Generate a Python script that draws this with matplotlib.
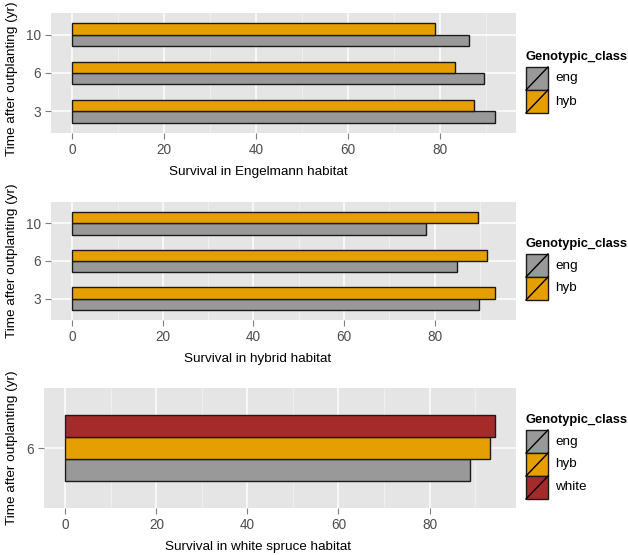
import numpy as np
import matplotlib.pyplot as plt
from matplotlib.patches import Rectangle

years = ["3", "6", "10"]
eng_engelmann = [91.9, 89.5, 86.2]
hyb_engelmann = [87.3, 83.3, 78.8]
eng_hybrid = [89.8, 84.9, 78.1]
hyb_hybrid = [93.3, 91.6, 89.6]

white_years = ["6"]
eng_white = [89.0]
hyb_white = [93.3]
white_white = [94.3]

colors = {"eng": "#999999", "hyb": "#E69F00", "white": "#A52A2A"}
xlabels = ["Survival in Engelmann habitat", "Survival in hybrid habitat",
           "Survival in white spruce habitat"]
ylabel = "Time after outplanting (yr)"

W, H = 628, 555
plt.rcParams['font.family'] = ['Liberation Sans', 'DejaVu Sans']
fig = plt.figure(figsize=(W / 100, H / 100), dpi=100)


def px_axes(left, top, right, bottom):
    return fig.add_axes([left / W, 1 - bottom / H, (right - left) / W, (bottom - top) / H])


def style(ax, ylim):
    ax.set_facecolor("#E5E5E5")
    for s in ax.spines.values():
        s.set_visible(False)
    ax.set_xticks([0, 20, 40, 60, 80])
    ax.set_xticks([10, 30, 50, 70, 90], minor=True)
    ax.grid(True, which="major", color="white", linewidth=1.1)
    ax.grid(True, which="minor", axis="x", color="#F2F2F2", linewidth=0.6)
    ax.set_axisbelow(True)
    ax.tick_params(which="major", length=4, width=0.8, color="#7F7F7F",
                   labelsize=9.8, labelcolor="#4D4D4D", pad=3)
    ax.tick_params(which="minor", length=0)
    ax.set_ylim(*ylim)


def bars(ax, cats, series, total_w):
    y = np.arange(1, len(cats) + 1)
    w = total_w / len(series)
    for i, (name, vals) in enumerate(series):
        off = -total_w / 2 + w * (i + 0.5)
        ax.barh(y + off, vals, height=w, color=colors[name],
                edgecolor="#1a1a1a", linewidth=1.0, zorder=3)
    ax.set_yticks(y)
    ax.set_yticklabels(cats)


panels = [
    (51, 13, 516, 133, years, [("eng", eng_engelmann), ("hyb", hyb_engelmann)], 0.6, (0.43, 3.57), (-4.6, 96.5)),
    (51, 202, 516, 320, years, [("eng", eng_hybrid), ("hyb", hyb_hybrid)], 0.6, (0.43, 3.57), (-4.7, 98.0)),
    (44, 388, 516, 508, white_years, [("eng", eng_white), ("hyb", hyb_white), ("white", white_white)], 0.65, (0.4, 1.6), (-4.7, 99.0)),
]

overlay = fig.add_axes([0, 0, 1, 1], zorder=10)
overlay.set_xlim(0, W)
overlay.set_ylim(H, 0)
overlay.axis("off")

legend_tops = [67, 254, 430]
for k, (l, t, r, b, cats, series, tw, ylim, xlim) in enumerate(panels):
    ax = px_axes(l, t, r, b)
    bars(ax, cats, series, tw)
    style(ax, ylim)
    ax.set_xlim(*xlim)
    overlay.text(258, b + 39, xlabels[k], ha="center", va="center", fontsize=9.7)
    yc = max((t + b) / 2, 79)
    overlay.text(12, yc, ylabel, ha="center", va="center",
                 rotation=90, fontsize=9.7)
    # legend
    ltop = legend_tops[k]
    overlay.text(526, ltop - 10, "Genotypic_class", ha="left", va="center",
                 fontsize=9.3, fontweight="bold")
    for j, (name, _) in enumerate(series):
        y0 = ltop + 23 * j
        overlay.add_patch(Rectangle((526, y0), 22, 23, facecolor=colors[name],
                                    edgecolor="#1a1a1a", linewidth=1.0))
        overlay.plot([526, 548], [y0 + 23, y0], color="black", linewidth=1.0)
        overlay.text(555, y0 + 11.5, name, ha="left", va="center", fontsize=9.7)

fig.savefig("out.png", dpi=100)
